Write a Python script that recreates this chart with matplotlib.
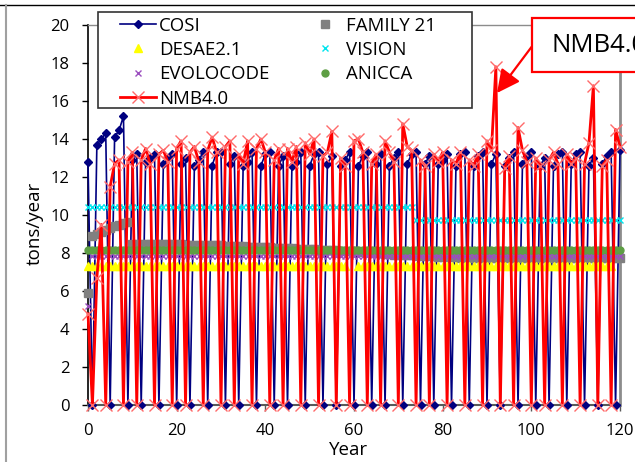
import matplotlib
matplotlib.use('Agg')
import matplotlib.pyplot as plt
from matplotlib.patches import Rectangle, FancyArrowPatch
from matplotlib.lines import Line2D
from matplotlib.legend_handler import HandlerLine2D

plt.rcParams['font.family'] = ['Open Sans', 'DejaVu Sans']

nan = float('nan')
years = list(range(0, 121))

cosi = [12.8, 0, 13.7, 14.0, 14.3, 0, 14.1, 14.45, 15.2, 0,
        12.9, 13.2, 0, 12.8, 13.0, 13.2, 0, 12.7, 13.0, 13.2,
        0, 12.7, 13.0, 0, 12.6, 12.9, 13.3, 0, 12.6, 13.3,
        13.3, 0, 12.7, 13.1, 0, 12.6, 12.8, 13.3, 0, 12.6,
        13.2, 13.3, 0, 12.6, 13.1, 0, 12.6, 12.8, 13.3, 0,
        12.6, 13.2, 13.3, 0, 12.7, 13.1, 0, 12.6, 12.9, 13.3,
        0, 12.6, 13.1, 13.3, 0, 12.7, 13.2, 0, 12.6, 13.0,
        13.3, 0, 12.7, 13.2, 13.3, 0, 12.7, 13.1, 0, 12.7,
        12.9, 13.2, 0, 12.6, 13.2, 13.3, 0, 12.6, 13.1, 13.3,
        0, 12.7, 13.2, 0, 12.6, 13.0, 13.3, 0, 12.7, 13.1,
        13.3, 0, 12.6, 13.0, 0, 12.6, 13.2, 13.3, 0, 12.7,
        13.2, 13.3, 0, 12.6, 13.0, 0, 12.7, 13.1, 13.3, 0,
        13.4]

family21 = [5.9, 8.9, 9.0, 9.1, 9.2, 9.3, 9.4, 9.5, 9.6, 9.65,
            8.5, 8.5, 8.5, 8.49, 8.48, 8.48, 8.47, 8.47, 8.46, 8.46,
            8.45, 8.45, 8.44, 8.44, 8.43, 8.43, 8.42, 8.42, 8.41, 8.41,
            8.40, 8.39, 8.38, 8.37, 8.36, 8.35, 8.34, 8.33, 8.32, 8.31,
            8.30, 8.29, 8.28, 8.27, 8.26, 8.25, 8.24, 8.23, 8.22, 8.21,
            8.20, 8.19, 8.18, 8.17, 8.16, 8.15, 8.14, 8.13, 8.12, 8.11,
            8.10, 8.08, 8.06, 8.04, 8.02, 8.00, 7.98, 7.96, 7.94, 7.92,
            7.90, 7.89, 7.88, 7.87, 7.86, 7.85, 7.84, 7.83, 7.82, 7.81,
            7.80, 7.79, 7.78, 7.77, 7.76, 7.75, 7.75, 7.75, 7.75, 7.75,
            7.75, 7.75, 7.75, 7.75, 7.75, 7.75, 7.75, 7.75, 7.75, 7.75,
            7.75, 7.75, 7.75, 7.75, 7.75, 7.75, 7.75, 7.75, 7.75, 7.75,
            7.75, 7.75, 7.75, 7.75, 7.75, 7.75, 7.75, 7.75, 7.75, 7.75,
            7.75]

desae21 = [7.3, 7.3, 7.3, 7.3, 7.3, 7.3, 7.3, 7.3, 7.3, 7.3,
           7.3, 7.3, 7.3, 7.3, 7.3, 7.3, 7.3, 7.3, 7.3, 7.3,
           7.3, 7.3, 7.3, 7.3, 7.3, 7.3, 7.3, 7.3, 7.3, 7.3,
           7.3, 7.3, 7.3, 7.3, 7.3, 7.3, 7.3, 7.3, 7.3, 7.3,
           7.3, 7.3, 7.3, 7.3, 7.3, 7.3, 7.3, 7.3, 7.3, 7.3,
           7.3, 7.3, 7.3, 7.3, 7.3, 7.3, 7.3, 7.3, 7.3, nan,
           nan, 7.3, 7.3, 7.3, 7.3, 7.3, 7.3, 7.3, 7.3, 7.3,
           7.3, 7.3, 7.3, 7.3, 7.3, 7.3, 7.3, 7.3, 7.3, 7.3,
           7.3, 7.3, 7.3, 7.3, 7.3, 7.3, 7.3, 7.3, 7.3, 7.3,
           7.3, 7.3, 7.3, 7.3, 7.3, 7.3, 7.3, 7.3, 7.3, 7.3,
           7.3, 7.3, 7.3, 7.3, 7.3, 7.3, 7.3, 7.3, 7.3, 7.3,
           7.3, 7.3, 7.3, 7.3, 7.3, 7.3, 7.3, 7.3, 7.3, nan,
           nan]

vision = [10.4, 10.4, 10.4, 10.4, 10.4, 10.4, 10.4, 10.4, 10.4, 10.4,
          10.4, 10.4, 10.4, 10.4, 10.4, 10.4, 10.4, 10.4, 10.4, 10.4,
          10.4, 10.4, 10.4, 10.4, 10.4, 10.4, 10.4, 10.4, 10.4, 10.4,
          10.4, 10.4, 10.4, 10.4, 10.4, 10.4, 10.4, 10.4, 10.4, 10.4,
          10.4, 10.4, 10.4, 10.4, 10.4, 10.4, 10.4, 10.4, 10.4, 10.4,
          10.4, 10.4, 10.4, 10.4, 10.4, 10.4, 10.4, 10.4, 10.4, 10.4,
          10.4, 10.4, 10.4, 10.4, 10.4, 10.4, 10.4, 10.4, 10.4, 10.4,
          10.4, 10.4, 10.4, 10.4, 9.75, 9.75, 9.75, 9.75, 9.75, 9.75,
          9.75, 9.75, 9.75, 9.75, 9.75, 9.75, 9.75, 9.75, 9.75, 9.75,
          9.75, 9.75, 9.75, 9.75, 9.75, 9.75, 9.75, 9.75, 9.75, 9.75,
          9.75, 9.75, 9.75, 9.75, 9.75, 9.75, 9.75, 9.75, 9.75, 9.75,
          9.75, 9.75, 9.75, 9.75, 9.75, 9.75, 9.75, 9.75, 9.75, 9.75,
          9.75]

evolocode = [5.2, 7.85, 7.85, 7.85, 7.85, 7.85, 7.85, 7.85, 7.85, 7.85,
             7.85, 7.85, 7.85, 7.85, 7.85, 7.85, 7.85, 7.85, 7.85, 7.85,
             7.85, 7.85, 7.85, 7.85, 7.85, 7.85, 7.85, 7.85, 7.85, 7.85,
             7.85, 7.85, 7.85, 7.85, 7.85, 7.85, 7.85, 7.85, 7.85, 7.85,
             7.85, 7.85, 7.85, 7.85, 7.85, 7.85, 7.85, 7.85, 7.85, 7.85,
             7.85, 7.85, 7.85, 7.85, 7.85, 7.85, 7.85, 7.85, 7.85, 7.85,
             7.85, 7.85, 7.85, 7.85, 7.85, 7.85, 7.85, 7.85, 7.85, 7.85,
             7.85, 7.85, 7.85, 7.85, 7.85, 7.85, 7.85, 7.85, 7.85, 7.85,
             7.85, 7.85, 7.85, 7.85, 7.85, 7.85, 7.85, 7.85, 7.85, 7.85,
             7.85, 7.85, 7.85, 7.85, 7.85, 7.85, 7.85, 7.85, 7.85, 7.85,
             7.85, 7.85, 7.85, 7.85, 7.85, 7.85, 7.85, 7.85, 7.85, 7.85,
             7.85, 7.85, 7.85, 7.85, 7.85, 7.85, 7.85, 7.85, 7.85, 7.85,
             7.85]

anicca = [8.15, 8.15, 8.15, 8.15, 8.15, 8.15, 8.15, 8.15, 8.15, 8.15,
          8.15, 8.15, 8.15, 8.15, 8.15, 8.15, 8.15, 8.15, 8.15, 8.15,
          8.15, 8.15, 8.15, 8.15, 8.15, 8.15, 8.15, 8.15, 8.15, 8.15,
          8.15, 8.15, 8.15, 8.15, 8.15, 8.15, 8.15, 8.15, 8.15, 8.15,
          8.15, 8.15, 8.15, 8.15, 8.15, 8.15, 8.15, 8.15, 8.15, 8.15,
          8.15, 8.15, 8.15, 8.15, 8.15, 8.15, 8.15, 8.15, 8.15, 8.15,
          8.15, 8.15, 8.15, 8.15, 8.15, 8.15, 8.15, 8.15, 8.15, 8.15,
          8.15, 8.15, 8.15, 8.15, 8.15, 8.15, 8.15, 8.15, 8.15, 8.15,
          8.15, 8.15, 8.15, 8.15, 8.15, 8.15, 8.15, 8.15, 8.15, 8.15,
          8.15, 8.15, 8.15, 8.15, 8.15, 8.15, 8.15, 8.15, 8.15, 8.15,
          8.15, 8.15, 8.15, 8.15, 8.15, 8.15, 8.15, 8.15, 8.15, 8.15,
          8.15, 8.15, 8.15, 8.15, 8.15, 8.15, 8.15, 8.15, 8.15, 8.15,
          8.15]

nmb40 = [4.8, 0, 6.7, 9.5, 0, 11.5, 12.7, 12.9, 0, 12.8,
         13.3, 0, 12.9, 13.5, 12.7, 0, 13.2, 13.4, 12.8, 0,
         13.5, 13.9, 0, 13.3, 13.6, 12.8, 0, 13.4, 14.1, 13.3,
         0, 13.6, 13.9, 0, 13.2, 12.7, 13.9, 0, 13.5, 14.0,
         13.3, 0, 12.9, 13.5, 0, 13.5, 12.8, 13.6, 0, 13.8,
         13.2, 14.0, 0, 13.1, 13.3, 14.4, 0, 13.0, 12.6, 0,
         13.9, 14.0, 13.3, 0, 12.7, 13.2, 0, 13.9, 13.3, 12.8,
         0, 14.8, 13.6, 13.4, 0, 12.9, 12.6, 0, 13.2, 12.8,
         13.3, 0, 12.9, 12.7, 13.3, 0, 12.9, 12.6, 13.2, 0,
         13.9, 13.4, 17.8, 0, 12.5, 13.1, 0, 14.6, 13.4, 12.8,
         0, 13.0, 12.6, 0, 12.9, 13.3, 12.7, 0, 13.2, 12.7,
         13.0, 0, 12.7, 13.8, 16.8, 0, 12.6, 12.9, 0, 14.5,
         13.6]

x_ticks = [0, 20, 40, 60, 80, 100, 120]
y_ticks = [0, 2, 4, 6, 8, 10, 12, 14, 16, 18, 20]

W, H = 635, 462
def fx(px):
    return px / W
def fy(py):
    return 1 - py / H

fig = plt.figure(figsize=(W / 100, H / 100), dpi=100)
ax = fig.add_axes([fx(88), fy(405), (620 - 88) / W, (405 - 25) / H])

common = dict(clip_on=False, zorder=3)
h_cosi, = ax.plot(years, cosi, color='#000080', lw=1.2, marker='D', ms=3.8,
                  mfc='#000080', mec='#000080', label='COSI', **common)
h_fam, = ax.plot(years, family21, ls='none', marker='s', ms=5.2, color='#808080',
                 label='FAMILY 21', **common)
h_des, = ax.plot(years, desae21, ls='none', marker='^', ms=6, color='#FFFF00',
                 mec='#FFFF00', label='DESAE2.1', **common)
h_vis, = ax.plot(years, vision, ls='none', marker='x', ms=5, mew=1.0, color='#00E5EE',
                 label='VISION', **common)
h_evo, = ax.plot(years, evolocode, ls='none', marker='x', ms=5, mew=1.0, color='#9B4FBF',
                 label='EVOLOCODE', **common)
h_ani, = ax.plot(years, anicca, ls='none', marker='o', ms=5, color='#5E9E44',
                 label='ANICCA', **common)
h_nmb, = ax.plot(years, nmb40, color='#FF0000', lw=2.0, marker='x', ms=8.5, mew=1.0,
                 mec='#FF6A6A', label='NMB4.0', **common)

ax.set_xlim(0, 120)
ax.set_ylim(0, 20)
ax.set_xticks(x_ticks)
ax.set_yticks(y_ticks)
ax.tick_params(axis='y', direction='out', length=4.3, width=1, pad=9, labelsize=12,
               color='black', labelcolor='black')
ax.tick_params(axis='x', direction='out', length=4.3, width=1, pad=9, labelsize=12,
               color='#595959', labelcolor='black')

ax.spines['left'].set_color('black')
ax.spines['left'].set_linewidth(1.2)
ax.spines['bottom'].set_color('#595959')
ax.spines['bottom'].set_linewidth(1.5)
ax.spines['top'].set_color('#8c8c8c')
ax.spines['top'].set_linewidth(1.0)
ax.spines['right'].set_color('#8c8c8c')
ax.spines['right'].set_linewidth(2.0)

ax.set_xlabel('Year', fontsize=13.5)
ax.set_ylabel('tons/year', fontsize=13.5)
ax.xaxis.set_label_coords(0.49, -0.095)
ax.yaxis.set_label_coords(-0.083, 0.478)

# legend box
legbox = Rectangle((fx(98), fy(108)), (472 - 98) / W, (108 - 12) / H,
                   transform=fig.transFigure, facecolor='white', edgecolor='#333333',
                   lw=1.2, clip_on=False, zorder=4.9)
ax.add_patch(legbox)

hmap = {h: HandlerLine2D(xpad=0.91) for h in [h_cosi, h_fam, h_des, h_vis, h_evo, h_ani, h_nmb]}
handles = [h_cosi, h_des, h_evo, h_nmb, h_fam, h_vis, h_ani]
labels = [h.get_label() for h in handles]
leg = ax.legend(handles, labels, ncol=2, loc='upper left',
                bbox_to_anchor=(fx(98), fy(12)), bbox_transform=fig.transFigure,
                fontsize=13.4, frameon=False, borderpad=0.25, labelspacing=0.34,
                handlelength=2.85, handletextpad=0.16, columnspacing=1.13,
                borderaxespad=0, handler_map=hmap)
leg.set_zorder(5)

# annotation box (extends past the right edge, as in the source)
box = Rectangle((fx(532), fy(72)), (645 - 532) / W, (72 - 18) / H,
                transform=fig.transFigure, facecolor='white', edgecolor='#FF0000',
                lw=1.6, clip_on=False)
fig.add_artist(box)
fig.text(fx(551), fy(45), 'NMB4.0', fontsize=18.5, ha='left', va='center')
arrow = FancyArrowPatch((fx(531.7), fy(46.7)), (fx(497), fy(93)),
                        transform=fig.transFigure,
                        arrowstyle='-|>,head_length=0.7,head_width=0.35',
                        mutation_scale=20, color='#FF0000', lw=1.6, shrinkA=0, shrinkB=0)
fig.add_artist(arrow)

# outer chart frame pieces
fig.add_artist(Line2D([0, 1], [fy(5), fy(5)], transform=fig.transFigure, color='black', lw=1.0))
fig.add_artist(Line2D([fx(6), fx(6)], [fy(5), 0], transform=fig.transFigure, color='#a0a0a0', lw=1.5))

fig.savefig('out.png', dpi=100)
